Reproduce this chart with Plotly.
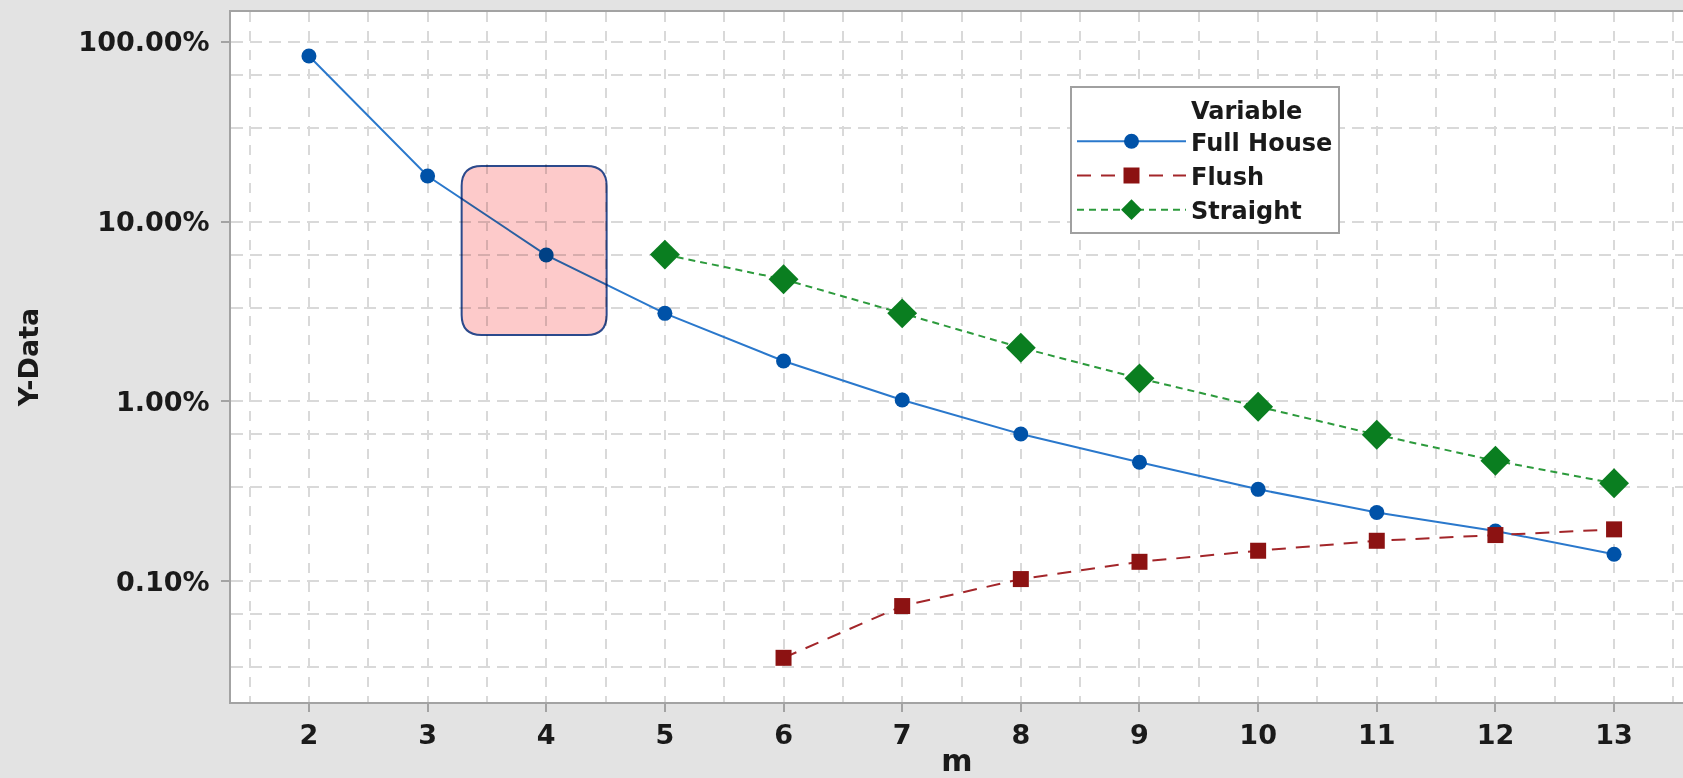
import math
import plotly.graph_objects as go

# ---- data ----
m_full = [2, 3, 4, 5, 6, 7, 8, 9, 10, 11, 12, 13]
full_house = [0.836, 0.1796, 0.0652, 0.0309, 0.01677, 0.01017, 0.00658, 0.00458,
              0.00324, 0.00241, 0.00190, 0.00141]
m_flush = [6, 7, 8, 9, 10, 11, 12, 13]
flush = [0.000374, 0.000726, 0.001026, 0.00128, 0.001475, 0.001676, 0.001803, 0.00194]
m_straight = [5, 6, 7, 8, 9, 10, 11, 12, 13]
straight = [0.0656, 0.0478, 0.0309, 0.0199, 0.01343, 0.00934, 0.00652, 0.00467, 0.00350]

x_ticks = list(range(2, 14))
y_ticks = [1, 0.1, 0.01, 0.001]
y_ticktext = ["100.00%", "10.00%", "1.00%", "0.10%"]
y_minor = [d * f for d in [1, 0.1, 0.01, 0.001] for f in (0.655, 0.332)]
x_minor = [k + 0.5 for k in range(1, 14)]

# highlight box around m = 4 (data coordinates)
box_x = [3.287, 4.509]
box_y = [0.0234, 0.204]

# ---- layout constants ----
W, H = 1683, 778
ML, MR, MT, MB = 231, 0, 12, 76
XR = [1.343, 13.581]
YR = [-3.673, 0.167]
PW, PH = W - ML - MR, H - MT - MB

FONT = "DejaVu Sans"
TXT = "#1a1a1a"
GRID = "#d9d9d9"
AXL = "#a3a3a3"

fig = go.Figure()
fig.add_trace(go.Scatter(
    x=m_full, y=full_house, name="Full House", mode="lines+markers",
    line=dict(color="#2a78cc", width=2),
    marker=dict(symbol="circle", size=15, color="#0052a8")))
fig.add_trace(go.Scatter(
    x=m_flush, y=flush, name="Flush", mode="lines+markers",
    line=dict(color="#a3262a", width=2, dash="14px,10px"),
    marker=dict(symbol="square", size=16, color="#8c1212")))
fig.add_trace(go.Scatter(
    x=m_straight, y=straight, name="Straight", mode="lines+markers",
    line=dict(color="#2c9a3c", width=2, dash="7px,5px"),
    marker=dict(symbol="diamond", size=23, color="#0a7e20")))

def px(x):
    return (x - XR[0]) / (XR[1] - XR[0])

def py(v):
    return (math.log10(v) - YR[0]) / (YR[1] - YR[0])

x0, x1 = px(box_x[0]), px(box_x[1])
y0, y1 = py(box_y[0]), py(box_y[1])
rx, ry = 20 / PW, 20 / PH
path = (f"M{x0+rx},{y1} L{x1-rx},{y1} Q{x1},{y1} {x1},{y1-ry} "
        f"L{x1},{y0+ry} Q{x1},{y0} {x1-rx},{y0} L{x0+rx},{y0} "
        f"Q{x0},{y0} {x0},{y0+ry} L{x0},{y1-ry} Q{x0},{y1} {x0+rx},{y1} Z")
fig.add_shape(type="path", path=path, xref="paper", yref="paper",
              fillcolor="#fdcaca", line=dict(color="#2c4a8c", width=2),
              layer="above")

def f(size):
    return dict(family=FONT, size=size, color=TXT, weight="bold")

fig.update_layout(
    width=W, height=H, autosize=False,
    margin=dict(l=ML, r=MR, t=MT, b=MB),
    paper_bgcolor="#e3e3e3", plot_bgcolor="white",
    font=f(27),
    showlegend=True,
    legend=dict(
        x=(1070 - ML) / PW, y=(H - MB - 86) / PH,
        xanchor="left", yanchor="top",
        bgcolor="white", bordercolor="#a0a0a0", borderwidth=2,
        font=f(24),
        itemwidth=109,
        title=dict(text="\u00a0" * 14 + "Variable", font=f(24)),
    ),
    xaxis=dict(
        range=XR, tickmode="array", tickvals=x_ticks,
        showgrid=True, gridcolor=GRID, gridwidth=2, griddash="10px,9px",
        showline=True, linecolor=AXL, linewidth=2, mirror=True,
        ticks="outside", ticklen=8, tickwidth=2, tickcolor=AXL,
        tickfont=f(27),
        zeroline=False,
        minor=dict(tickmode="array", tickvals=x_minor, showgrid=True,
                   gridcolor=GRID, gridwidth=2, griddash="10px,9px", ticks=""),
        title=dict(text="m", font=f(30), standoff=6),
    ),
    yaxis=dict(
        type="log", range=YR, tickmode="array", tickvals=y_ticks, ticktext=y_ticktext,
        showgrid=True, gridcolor=GRID, gridwidth=2, griddash="12px,7px",
        showline=True, linecolor=AXL, linewidth=2, mirror=False,
        ticks="outside", ticklen=8, tickwidth=2, tickcolor=AXL,
        tickfont=f(27),
        ticklabelstandoff=6,
        zeroline=False,
        minor=dict(tickmode="array", tickvals=y_minor, showgrid=True,
                   gridcolor=GRID, gridwidth=2, griddash="12px,7px", ticks=""),
        title=dict(text="Y-Data", font=f(27), standoff=32),
    ),
)

post = ("document.documentElement.style.margin='0';"
        "document.body.style.margin='0';document.body.style.overflow='hidden';"
        "var gd=document.getElementById('{plot_id}');"
        "function bl(){gd.querySelectorAll('.layer-above .shapelayer path')"
        ".forEach(function(e){e.style.mixBlendMode='multiply';});}"
        "bl(); if(gd.on){gd.on('plotly_afterplot', bl);}")
fig.write_html("out.html", post_script=post, config={"displayModeBar": False})
